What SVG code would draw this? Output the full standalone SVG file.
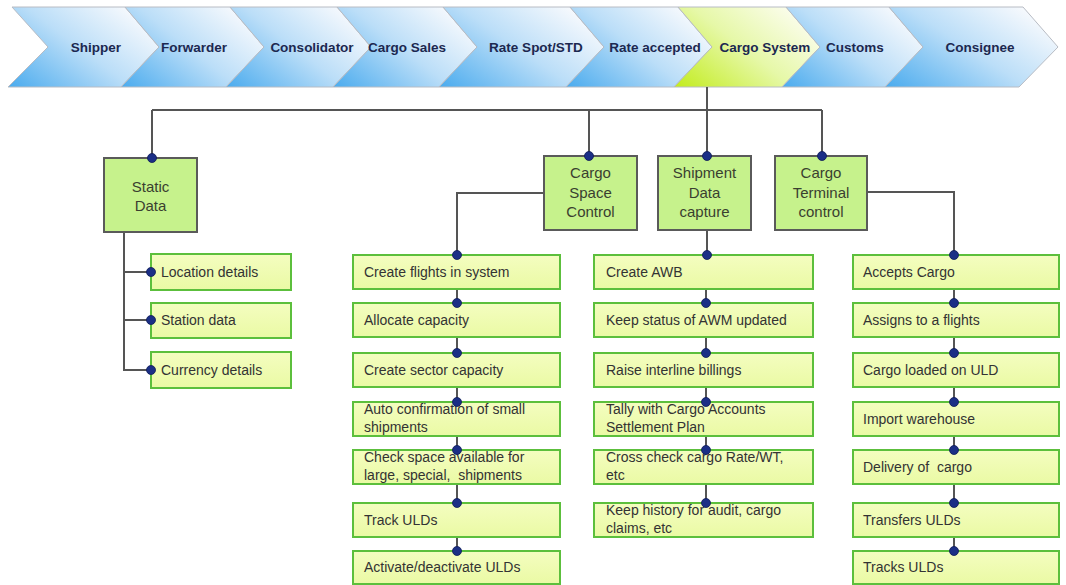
<svg xmlns="http://www.w3.org/2000/svg" width="1066" height="585" viewBox="0 0 1066 585">
<defs>
<linearGradient id="gb" x1="0" y1="1" x2="1" y2="0.3">
<stop offset="0" stop-color="#4aabee"/>
<stop offset="0.55" stop-color="#bbdef8"/>
<stop offset="1" stop-color="#f6f9fd"/>
</linearGradient>
<linearGradient id="gg" x1="0" y1="1" x2="1" y2="0.3">
<stop offset="0" stop-color="#c2ec1c"/>
<stop offset="0.55" stop-color="#e6f8a8"/>
<stop offset="1" stop-color="#fbfdec"/>
</linearGradient>
<linearGradient id="gs" x1="0" y1="0" x2="0" y2="1">
<stop offset="0" stop-color="#f4fdc0"/>
<stop offset="1" stop-color="#eafaa4"/>
</linearGradient>
</defs>
<style>
.chev{stroke:#b8bcc4;stroke-width:1}
.ct{font-family:"Liberation Sans",Arial,sans-serif;font-weight:bold;font-size:13.5px;fill:#1c2850;text-anchor:middle}
.hb{fill:#c6f28c;stroke:#5a5a5a;stroke-width:2}
.ht{font-family:"Liberation Sans",Arial,sans-serif;font-size:15px;fill:#3a3f30;text-anchor:middle}
.sb{fill:url(#gs);stroke:#5cbf3c;stroke-width:2}
.st{font-family:"Liberation Sans",Arial,sans-serif;font-size:14px;fill:#333;white-space:pre}
.ln{fill:none;stroke:#555;stroke-width:2}
.dot{fill:#1b2f86;stroke:#0e1a55;stroke-width:0.8}
</style>
<rect width="1066" height="585" fill="#ffffff"/>
<g id="process-bar">
<g id="chev-shipper"><polygon class="chev" fill="url(#gb)" points="12,7 125,7 159,47 121,87 8,87 48,47"/><text class="ct" x="96" y="52">Shipper</text></g>
<g id="chev-forwarder"><polygon class="chev" fill="url(#gb)" points="125,7 230,7 264,47 226,87 121,87 159,47"/><text class="ct" x="194" y="52">Forwarder</text></g>
<g id="chev-consolidator"><polygon class="chev" fill="url(#gb)" points="230,7 337,7 371,47 333,87 226,87 264,47"/><text class="ct" x="312" y="52">Consolidator</text></g>
<g id="chev-cargo-sales"><polygon class="chev" fill="url(#gb)" points="337,7 443,7 477,47 439,87 333,87 371,47"/><text class="ct" x="407" y="52">Cargo Sales</text></g>
<g id="chev-rate-spot"><polygon class="chev" fill="url(#gb)" points="443,7 570,7 604,47 566,87 439,87 477,47"/><text class="ct" x="536" y="52">Rate Spot/STD</text></g>
<g id="chev-rate-accepted"><polygon class="chev" fill="url(#gb)" points="570,7 678,7 712,47 674,87 566,87 604,47"/><text class="ct" x="655" y="52">Rate accepted</text></g>
<g id="chev-cargo-system"><polygon class="chev" fill="url(#gg)" points="678,7 786,7 820,47 782,87 674,87 712,47"/><text class="ct" x="765" y="52">Cargo System</text></g>
<g id="chev-customs"><polygon class="chev" fill="url(#gb)" points="786,7 889,7 923,47 885,87 782,87 820,47"/><text class="ct" x="855" y="52">Customs</text></g>
<g id="chev-consignee"><polygon class="chev" fill="url(#gb)" points="889,7 1023,7 1058,47 1019,87 885,87 923,47"/><text class="ct" x="980" y="52">Consignee</text></g>
</g>
<g id="connectors">
<path class="ln" d="M707,87 V110 M152,110 H822 M152,110 V158 M589,110 V156 M707,110 V156 M822,110 V156"/>
<path class="ln" d="M124,232 V371 M124,272 H151 M124,320 H151 M124,370 H151"/>
<path class="ln" d="M544,193 H457 V255 M707,230 V255 M867,192 H954 V255"/>
<path class="ln" d="M457,289 V303 M457,337 V353 M457,387 V402 M457,436 V450 M457,484 V503 M457,537 V551"/>
<path class="ln" d="M706,289 V303 M706,337 V353 M706,387 V402 M706,436 V450 M706,484 V503"/>
<path class="ln" d="M954,289 V303 M954,337 V353 M954,387 V402 M954,436 V450 M954,484 V503 M954,537 V551"/>
</g>
<g id="node-static-data"><rect class="hb" x="104" y="158" width="93" height="74"/><text class="ht" x="150.5" y="192">Static</text><text class="ht" x="150.5" y="211">Data</text></g>
<g id="node-cargo-space-control"><rect class="hb" x="544" y="156" width="93" height="74"/><text class="ht" x="590.5" y="178">Cargo</text><text class="ht" x="590.5" y="198">Space</text><text class="ht" x="590.5" y="217">Control</text></g>
<g id="node-shipment-data-capture"><rect class="hb" x="658" y="156" width="93" height="74"/><text class="ht" x="704.5" y="178">Shipment</text><text class="ht" x="704.5" y="198">Data</text><text class="ht" x="704.5" y="217">capture</text></g>
<g id="node-cargo-terminal-control"><rect class="hb" x="775" y="156" width="92" height="74"/><text class="ht" x="821" y="178">Cargo</text><text class="ht" x="821" y="198">Terminal</text><text class="ht" x="821" y="217">control</text></g>
<g id="node-location-details"><rect class="sb" x="151" y="254" width="140" height="36"/><text class="st" x="161" y="277">Location details</text></g>
<g id="node-station-data"><rect class="sb" x="151" y="303" width="140" height="35"/><text class="st" x="161" y="325">Station data</text></g>
<g id="node-currency-details"><rect class="sb" x="151" y="352" width="140" height="36"/><text class="st" x="161" y="375">Currency details</text></g>
<g id="node-create-flights"><rect class="sb" x="353" y="255" width="207" height="34"/><text class="st" x="364" y="277">Create flights in system</text></g>
<g id="node-allocate-capacity"><rect class="sb" x="353" y="303" width="207" height="34"/><text class="st" x="364" y="325">Allocate capacity</text></g>
<g id="node-create-sector"><rect class="sb" x="353" y="353" width="207" height="34"/><text class="st" x="364" y="375">Create sector capacity</text></g>
<g id="node-auto-confirmation"><rect class="sb" x="353" y="402" width="207" height="34"/><text class="st" x="364" y="414">Auto confirmation of small</text><text class="st" x="364" y="432">shipments</text></g>
<g id="node-check-space"><rect class="sb" x="353" y="450" width="207" height="34"/><text class="st" x="364" y="462">Check space available for</text><text class="st" x="364" y="480">large, special,  shipments</text></g>
<g id="node-track-ulds"><rect class="sb" x="353" y="503" width="207" height="34"/><text class="st" x="364" y="525">Track ULDs</text></g>
<g id="node-activate-ulds"><rect class="sb" x="353" y="551" width="207" height="33"/><text class="st" x="364" y="572">Activate/deactivate ULDs</text></g>
<g id="node-create-awb"><rect class="sb" x="594" y="255" width="219" height="34"/><text class="st" x="606" y="277">Create AWB</text></g>
<g id="node-keep-status"><rect class="sb" x="594" y="303" width="219" height="34"/><text class="st" x="606" y="325">Keep status of AWM updated</text></g>
<g id="node-raise-billings"><rect class="sb" x="594" y="353" width="219" height="34"/><text class="st" x="606" y="375">Raise interline billings</text></g>
<g id="node-tally"><rect class="sb" x="594" y="402" width="219" height="34"/><text class="st" x="606" y="414">Tally with Cargo Accounts</text><text class="st" x="606" y="432">Settlement Plan</text></g>
<g id="node-cross-check"><rect class="sb" x="594" y="450" width="219" height="34"/><text class="st" x="606" y="462">Cross check cargo Rate/WT,</text><text class="st" x="606" y="480">etc</text></g>
<g id="node-keep-history"><rect class="sb" x="594" y="503" width="219" height="34"/><text class="st" x="606" y="515">Keep history for audit, cargo</text><text class="st" x="606" y="533">claims, etc</text></g>
<g id="node-accepts-cargo"><rect class="sb" x="853" y="255" width="206" height="34"/><text class="st" x="863" y="277">Accepts Cargo</text></g>
<g id="node-assigns-flights"><rect class="sb" x="853" y="303" width="206" height="34"/><text class="st" x="863" y="325">Assigns to a flights</text></g>
<g id="node-cargo-loaded"><rect class="sb" x="853" y="353" width="206" height="34"/><text class="st" x="863" y="375">Cargo loaded on ULD</text></g>
<g id="node-import-warehouse"><rect class="sb" x="853" y="402" width="206" height="34"/><text class="st" x="863" y="424">Import warehouse</text></g>
<g id="node-delivery"><rect class="sb" x="853" y="450" width="206" height="34"/><text class="st" x="863" y="472">Delivery of  cargo</text></g>
<g id="node-transfers-ulds"><rect class="sb" x="853" y="503" width="206" height="34"/><text class="st" x="863" y="525">Transfers ULDs</text></g>
<g id="node-tracks-ulds"><rect class="sb" x="853" y="551" width="206" height="33"/><text class="st" x="863" y="572">Tracks ULDs</text></g>
<g id="junction-dots">
<circle class="dot" cx="152" cy="158" r="4.5"/><circle class="dot" cx="589" cy="156" r="4.5"/><circle class="dot" cx="707" cy="156" r="4.5"/><circle class="dot" cx="822" cy="156" r="4.5"/>
<circle class="dot" cx="151" cy="272" r="4.5"/><circle class="dot" cx="151" cy="320" r="4.5"/><circle class="dot" cx="151" cy="370" r="4.5"/>
<circle class="dot" cx="457" cy="255" r="4.5"/><circle class="dot" cx="457" cy="303" r="4.5"/><circle class="dot" cx="457" cy="353" r="4.5"/><circle class="dot" cx="457" cy="402" r="4.5"/><circle class="dot" cx="457" cy="450" r="4.5"/><circle class="dot" cx="457" cy="503" r="4.5"/><circle class="dot" cx="457" cy="551" r="4.5"/>
<circle class="dot" cx="707" cy="255" r="4.5"/><circle class="dot" cx="706" cy="303" r="4.5"/><circle class="dot" cx="706" cy="353" r="4.5"/><circle class="dot" cx="706" cy="402" r="4.5"/><circle class="dot" cx="706" cy="450" r="4.5"/><circle class="dot" cx="706" cy="503" r="4.5"/>
<circle class="dot" cx="954" cy="255" r="4.5"/><circle class="dot" cx="954" cy="303" r="4.5"/><circle class="dot" cx="954" cy="353" r="4.5"/><circle class="dot" cx="954" cy="402" r="4.5"/><circle class="dot" cx="954" cy="450" r="4.5"/><circle class="dot" cx="954" cy="503" r="4.5"/><circle class="dot" cx="954" cy="551" r="4.5"/>
</g>
</svg>
